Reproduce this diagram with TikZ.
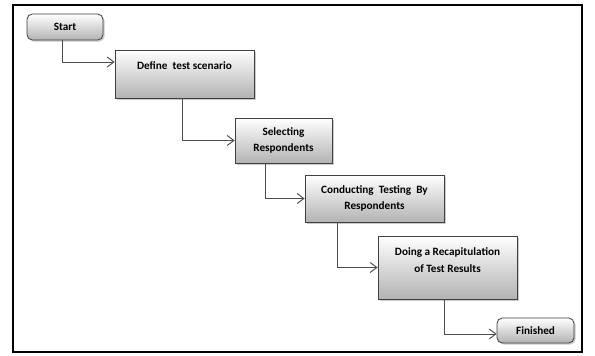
\documentclass[tikz,border=0pt]{standalone}
\usepackage{fontspec}
\setmainfont{Carlito}
\usetikzlibrary{arrows.meta,shadows,calc}
\begin{document}
\begin{tikzpicture}[x=0.75pt,y=-0.75pt,
  box/.style={draw=black!75, line width=0.6pt, top color=white, bottom color=black!30,
    drop shadow={shadow xshift=1.2pt, shadow yshift=-1.2pt, fill=black!35, opacity=0.6},
    inner sep=0pt, align=center, font=\fontsize{8.4}{12.5}\selectfont\bfseries},
  rbox/.style={box, rounded corners=4pt},
  lbl/.style={inner sep=0pt, align=center, font=\fontsize{8.4}{12.5}\selectfont\bfseries},
  conn/.style={draw=black!70, line width=0.7pt, -{Straight Barb[length=5pt,width=7.5pt,line width=0.7pt]}}]
\useasboundingbox (0,0) rectangle (595,355);
\draw[line width=1.6pt] (13,5) rectangle (582,352);
\node[rbox, minimum width=76*0.75pt, minimum height=26*0.75pt] (start) at (65,27) {Start};
\node[box, minimum width=139*0.75pt, minimum height=48*0.75pt,
  label={[lbl, name=deft, yshift=6pt]center:Define\ \ test scenario}] (def) at (184.5,74) {};
\node[box, minimum width=97*0.75pt, minimum height=45*0.75pt] (sel) at (283.5,140.5) {Selecting\\Respondents};
\node[box, minimum width=139*0.75pt, minimum height=47*0.75pt] (con) at (374.5,198.5) {Conducting\ \ Testing\ \ By\\Respondents};
\node[box, minimum width=139*0.75pt, minimum height=63*0.75pt,
  label={[lbl, name=doit, yshift=5.5pt]center:Doing a Recapitulation\\of Test Results}] (doing) at (447.5,267.5) {};
\node[rbox, minimum width=77*0.75pt, minimum height=25*0.75pt] (fin) at (535.5,330.5) {Finished};
\draw[conn] ([xshift=-2.25pt]start.south) |- ([yshift=9pt]def.west);
\draw[conn] ([xshift=-1.9pt]def.south) |- (sel.west);
\draw[conn] ([xshift=-13.9pt]sel.south) |- (con.west);
\draw[conn] ([xshift=-28.1pt]con.south) |- (doing.west);
\draw[conn] ([xshift=-2.6pt]doing.south) |- ([yshift=-2.6pt]fin.west);
\end{tikzpicture}
\end{document}
